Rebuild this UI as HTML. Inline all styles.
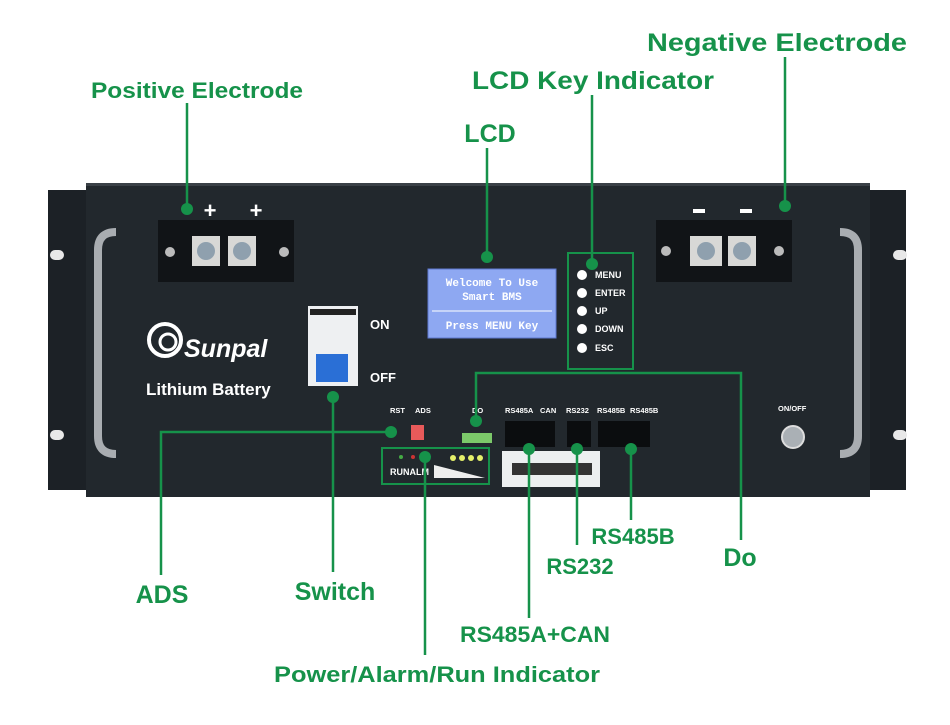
<!DOCTYPE html>
<html><head><meta charset="utf-8"><style>
html,body{margin:0;padding:0;background:#fff;}
svg{display:block;}
.g{font-family:"Liberation Sans",sans-serif;font-weight:bold;fill:#16924a;}
.w{font-family:"Liberation Sans",sans-serif;font-weight:bold;fill:#fff;}
</style></head><body>
<svg width="950" height="725" viewBox="0 0 950 725" xmlns="http://www.w3.org/2000/svg">
<rect width="950" height="725" fill="#fff"/>
<rect x="48" y="190" width="42" height="300" fill="#1c2126"/>
<rect x="866" y="190" width="40" height="300" fill="#1c2126"/>
<rect x="50" y="250" width="14" height="10" rx="5" fill="#e8e8e8"/>
<rect x="50" y="430" width="14" height="10" rx="5" fill="#e8e8e8"/>
<rect x="893" y="250" width="14" height="10" rx="5" fill="#e8e8e8"/>
<rect x="893" y="430" width="14" height="10" rx="5" fill="#e8e8e8"/>
<rect x="86" y="183" width="784" height="314" fill="#22282d"/>
<rect x="86" y="183" width="784" height="3" fill="#3a4046"/>
<path d="M116 232 Q98 232 98 250 L98 436 Q98 454 116 454" fill="none" stroke="#a9adb1" stroke-width="8"/>
<path d="M840 232 Q858 232 858 250 L858 436 Q858 454 840 454" fill="none" stroke="#a9adb1" stroke-width="8"/>
<rect x="158" y="220" width="136" height="62" fill="#111417"/>
<rect x="192" y="236" width="28" height="30" fill="#d8d8d6"/>
<rect x="228" y="236" width="28" height="30" fill="#d8d8d6"/>
<circle cx="206" cy="251" r="9" fill="#8fa0ae"/><circle cx="242" cy="251" r="9" fill="#8fa0ae"/>
<circle cx="170" cy="252" r="5" fill="#bbb"/><circle cx="284" cy="252" r="5" fill="#bbb"/>
<text x="210" y="218" class="w" font-size="22" text-anchor="middle">+</text>
<text x="256" y="218" class="w" font-size="22" text-anchor="middle">+</text>
<rect x="656" y="220" width="136" height="62" fill="#111417"/>
<rect x="690" y="236" width="32" height="30" fill="#d8d8d6"/>
<rect x="728" y="236" width="28" height="30" fill="#d8d8d6"/>
<circle cx="706" cy="251" r="9" fill="#8fa0ae"/><circle cx="742" cy="251" r="9" fill="#8fa0ae"/>
<circle cx="666" cy="251" r="5" fill="#bbb"/><circle cx="779" cy="251" r="5" fill="#bbb"/>
<rect x="693" y="209" width="12" height="4" fill="#fff"/><rect x="740" y="209" width="12" height="4" fill="#fff"/>
<circle cx="165" cy="340" r="16" fill="none" stroke="#fff" stroke-width="4"/>
<circle cx="168" cy="342" r="8" fill="none" stroke="#fff" stroke-width="3"/>
<text x="184" y="357" class="w" font-size="25" font-style="italic">Sunpal</text>
<text x="146" y="395" class="w" font-size="17">Lithium Battery</text>
<rect x="308" y="306" width="50" height="80" fill="#eef0f2"/>
<rect x="310" y="309" width="46" height="6" fill="#222"/>
<rect x="316" y="354" width="32" height="28" fill="#2a6fd6"/>
<text x="370" y="329" class="w" font-size="13">ON</text>
<text x="370" y="382" class="w" font-size="13">OFF</text>
<rect x="428" y="269" width="128" height="69" fill="#8ea8f2" stroke="#5d79d0"/>
<g font-family="Liberation Mono,monospace" font-size="11" font-weight="bold" fill="#fff" text-anchor="middle">
<text x="492" y="286">Welcome To Use</text><text x="492" y="300">Smart BMS</text>
<text x="492" y="329">Press MENU Key</text></g>
<line x1="432" y1="311" x2="552" y2="311" stroke="#fff"/>
<g fill="#fff"><circle cx="582" cy="275" r="5"/><circle cx="582" cy="293" r="5"/><circle cx="582" cy="311" r="5"/><circle cx="582" cy="329" r="5"/><circle cx="582" cy="348" r="5"/></g>
<g class="w" font-size="9"><text x="595" y="278">MENU</text><text x="595" y="296">ENTER</text><text x="595" y="314">UP</text><text x="595" y="332">DOWN</text><text x="595" y="351">ESC</text></g>
<rect x="568" y="253" width="65" height="116" fill="none" stroke="#16924a" stroke-width="2"/>
<g class="w" font-size="7.5"><text x="390" y="413">RST</text><text x="415" y="413">ADS</text><text x="472" y="413">DO</text>
<text x="505" y="413">RS485A</text><text x="540" y="413">CAN</text><text x="566" y="413">RS232</text><text x="597" y="413">RS485B</text><text x="630" y="413">RS485B</text><text x="778" y="411">ON/OFF</text></g>
<rect x="411" y="425" width="13" height="15" fill="#e85a5a"/>
<rect x="462" y="433" width="30" height="10" fill="#7cc96a"/>
<rect x="505" y="421" width="50" height="26" fill="#0b0d0f"/><rect x="567" y="421" width="24" height="26" fill="#0b0d0f"/><rect x="598" y="421" width="52" height="26" fill="#0b0d0f"/>
<rect x="502" y="451" width="98" height="36" fill="#eceff0"/>
<g fill="#333"><rect x="512" y="463" width="80" height="12"/></g>
<circle cx="793" cy="437" r="11" fill="#aab0b5" stroke="#ddd" stroke-width="2"/>
<rect x="382" y="448" width="107" height="36" fill="none" stroke="#16924a" stroke-width="2"/>
<circle cx="401" cy="457" r="2" fill="#4a4"/><circle cx="413" cy="457" r="2" fill="#c33"/>
<g fill="#e5f06a"><circle cx="453" cy="458" r="3"/><circle cx="462" cy="458" r="3"/><circle cx="471" cy="458" r="3"/><circle cx="480" cy="458" r="3"/></g>
<text x="390" y="475" class="w" font-size="9">RUNALM</text>
<path d="M434 478 L485 478 L434 465 Z" fill="#eee"/>
<g stroke="#16924a" stroke-width="2.5" fill="none">
<line x1="187" y1="103" x2="187" y2="209"/>
<line x1="487" y1="148" x2="487" y2="257"/>
<line x1="592" y1="95" x2="592" y2="264"/>
<line x1="785" y1="57" x2="785" y2="206"/>
<polyline points="476,421 476,373 741,373 741,540"/>
<polyline points="391,432 161,432 161,575"/>
<line x1="333" y1="397" x2="333" y2="572"/>
<line x1="425" y1="457" x2="425" y2="655"/>
<line x1="529" y1="449" x2="529" y2="618"/>
<line x1="577" y1="449" x2="577" y2="545"/>
<line x1="631" y1="449" x2="631" y2="520"/>
</g>
<g fill="#16924a">
<circle cx="187" cy="209" r="6"/><circle cx="487" cy="257" r="6"/><circle cx="592" cy="264" r="6"/><circle cx="785" cy="206" r="6"/>
<circle cx="476" cy="421" r="6"/><circle cx="391" cy="432" r="6"/><circle cx="333" cy="397" r="6"/><circle cx="425" cy="457" r="6"/>
<circle cx="529" cy="449" r="6"/><circle cx="577" cy="449" r="6"/><circle cx="631" cy="449" r="6"/>
</g>
<text x="197" y="98" class="g" font-size="22" text-anchor="middle" textLength="212" lengthAdjust="spacingAndGlyphs">Positive Electrode</text>
<text x="490" y="142" class="g" font-size="25" text-anchor="middle">LCD</text>
<text x="593" y="89" class="g" font-size="25" text-anchor="middle" textLength="242" lengthAdjust="spacingAndGlyphs">LCD Key Indicator</text>
<text x="777" y="51" class="g" font-size="25" text-anchor="middle" textLength="260" lengthAdjust="spacingAndGlyphs">Negative Electrode</text>
<text x="740" y="566" class="g" font-size="25" text-anchor="middle">Do</text>
<text x="162" y="603" class="g" font-size="25" text-anchor="middle">ADS</text>
<text x="335" y="600" class="g" font-size="25" text-anchor="middle">Switch</text>
<text x="437" y="682" class="g" font-size="22" text-anchor="middle" textLength="326" lengthAdjust="spacingAndGlyphs">Power/Alarm/Run Indicator</text>
<text x="535" y="642" class="g" font-size="22" text-anchor="middle" textLength="150" lengthAdjust="spacingAndGlyphs">RS485A+CAN</text>
<text x="580" y="574" class="g" font-size="22" text-anchor="middle">RS232</text>
<text x="633" y="544" class="g" font-size="22" text-anchor="middle">RS485B</text>
</svg>
</body></html>
